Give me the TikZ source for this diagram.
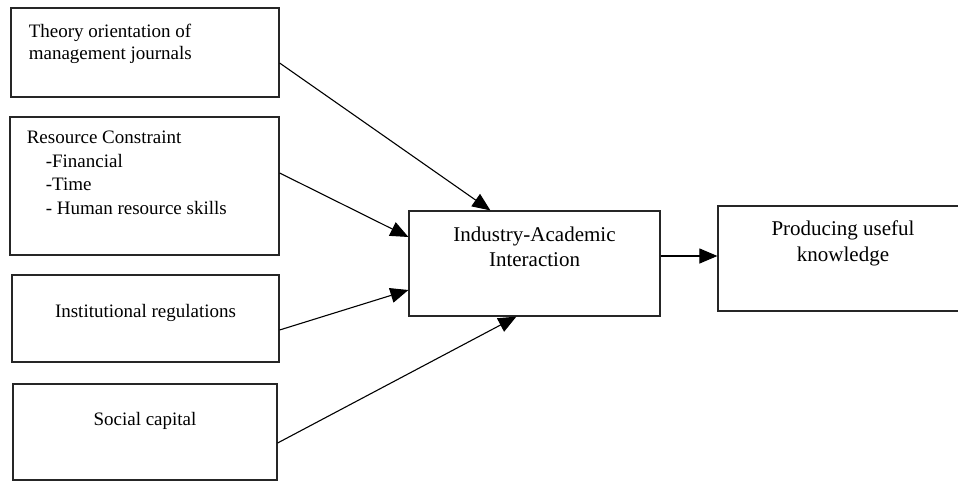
\documentclass[tikz,border=0pt]{standalone}
\usepackage{fontspec}
\setmainfont{Liberation Serif}
\usetikzlibrary{positioning, arrows.meta}

\begin{document}
\begin{tikzpicture}[x=1pt, y=-1pt, thick,
	box/.style = {draw=black!85, line width=1.2pt, rectangle, inner sep=0pt},
	txt/.style = {inner sep=0pt, font=\fontsize{19}{23.5}\selectfont},
	arr/.style = {line width=1.1pt, -{Triangle[length=18pt, width=15pt]}}]
	\useasboundingbox (0,0) rectangle (958,481);
	\node[box, minimum width=268pt, minimum height=89pt] (theory) at (145,52.5) {};
	\node[box, minimum width=269pt, minimum height=138pt] (resource) at (144.5,186) {};
	\node[box, minimum width=267pt, minimum height=87pt] (regul) at (145.5,318.5) {};
	\node[box, minimum width=264pt, minimum height=96pt] (social) at (145,432) {};
	\node[box, minimum width=251pt, minimum height=105pt] (interact) at (534.5,263.5) {};
	\node[box, minimum width=270pt, minimum height=105pt] (knowl) at (853,258.5) {};
	\node[txt, anchor=north west, align=left, font=\fontsize{19}{22}\selectfont] (ttheory) at ([xshift=18pt, yshift=-16pt]theory.north west) {Theory orientation of\\management journals};
	\node[txt, anchor=north west, align=left] (tresource) at ([xshift=17pt, yshift=-14.5pt]resource.north west) {Resource Constraint\\\hspace*{19pt}-Financial\\\hspace*{19pt}-Time\\\hspace*{19pt}- Human resource skills};
	\node[txt, anchor=base] (tregul) at ([yshift=1.5pt]regul.center) {Institutional regulations};
	\node[txt, anchor=base] (tsocial) at ([yshift=7pt]social.center) {Social capital};
	\node[txt, anchor=north, align=center, font=\fontsize{21}{25}\selectfont] (tinteract) at ([yshift=-16pt]interact.north) {Industry-Academic\\Interaction};
	\node[txt, anchor=north, align=center, font=\fontsize{21}{26}\selectfont] (tknowl) at ([xshift=-10pt, yshift=-15pt]knowl.north) {Producing useful\\knowledge};
	\draw[arr] ([yshift=-10.5pt]theory.east) -- ([xshift=82pt]interact.north west);
	\draw[arr] ([yshift=13pt]resource.east) -- ([yshift=26.5pt]interact.west);
	\draw[arr] ([yshift=-11.5pt]regul.east) -- ([yshift=-26.5pt]interact.west);
	\draw[arr] ([yshift=-11pt]social.east) -- ([xshift=108pt]interact.south west);
	\draw[arr] ([yshift=7.5pt]interact.east) -- ([yshift=2.5pt]knowl.west);
\end{tikzpicture}
\end{document}
